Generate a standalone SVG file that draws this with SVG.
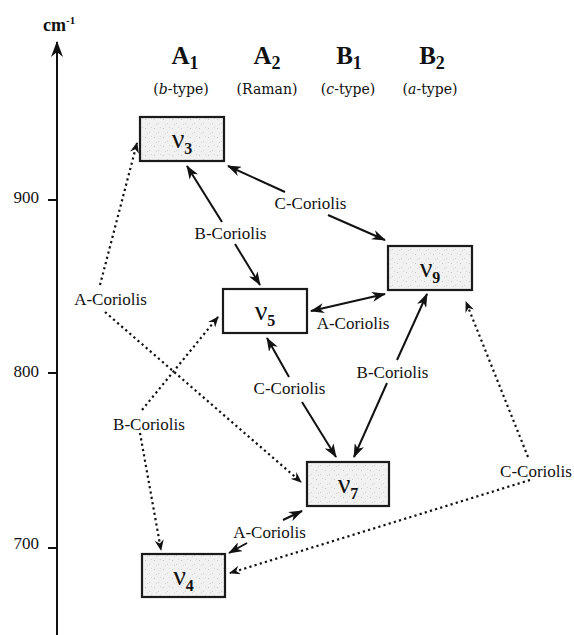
<svg xmlns="http://www.w3.org/2000/svg" width="574" height="635" viewBox="0 0 574 635">
<style>
.lbl{font-family:"Liberation Serif","Times New Roman",serif;font-size:17px;fill:#111;text-anchor:middle}
.tick{font-family:"Liberation Serif","Times New Roman",serif;font-size:17px;fill:#111;text-anchor:end}
.hdr{font-family:"Liberation Serif","Times New Roman",serif;font-size:25px;font-weight:bold;fill:#111;text-anchor:middle}
.sub{font-family:"DejaVu Serif",serif;font-size:14px;fill:#111;text-anchor:middle}
.nu{font-family:"Liberation Serif","Times New Roman",serif;font-size:28px;fill:#111;text-anchor:middle}
.box{stroke:#1a1a1a;stroke-width:2.2}
.gray{fill:url(#speck)}
.white{fill:#fff}
.solid{stroke:#111;stroke-width:2;fill:none;marker-end:url(#ah)}
.dot{stroke:#111;stroke-width:2.2;fill:none;stroke-dasharray:2.2 3.2;marker-end:url(#ahs)}
</style>
<defs>
<pattern id="speck" width="9" height="9" patternUnits="userSpaceOnUse">
<rect width="9" height="9" fill="#f1f1f1"/>
<rect x="1" y="2" width="1" height="1" fill="#c8c8c8"/>
<rect x="5" y="6" width="1" height="1" fill="#d0d0d0"/>
<rect x="7" y="1" width="1" height="1" fill="#dadada"/>
<rect x="3" y="7" width="1" height="1" fill="#d4d4d4"/>
</pattern>
<marker id="ah" viewBox="0 0 14 10" refX="13" refY="5" markerWidth="14" markerHeight="10" orient="auto" markerUnits="userSpaceOnUse">
<path d="M0,0 L14,5 L0,10 L4,5 z" fill="#111"/>
</marker>
<marker id="ahs" viewBox="0 0 11 9" refX="10" refY="4.5" markerWidth="11" markerHeight="9" orient="auto" markerUnits="userSpaceOnUse">
<path d="M0,0 L11,4.5 L0,9 L3.5,4.5 z" fill="#111"/>
</marker>
<marker id="axh" viewBox="0 0 16 12" refX="15" refY="6" markerWidth="16" markerHeight="12" orient="auto" markerUnits="userSpaceOnUse">
<path d="M0,0 L16,6 L0,12 L5,6 z" fill="#111"/>
</marker>
</defs>
<rect width="574" height="635" fill="#fff"/>

<g id="axis">
<line x1="57" y1="635" x2="57" y2="42" stroke="#111" stroke-width="2" marker-end="url(#axh)"/>
<text x="43" y="31" font-family="Liberation Serif,serif" font-size="18" font-weight="bold" fill="#111">cm<tspan font-size="11" dy="-7">-1</tspan></text>
<line x1="48" y1="200" x2="57" y2="200" stroke="#111" stroke-width="2"/>
<line x1="48" y1="373" x2="57" y2="373" stroke="#111" stroke-width="2"/>
<line x1="48" y1="548" x2="57" y2="548" stroke="#111" stroke-width="2"/>
<text class="tick" x="39" y="203">900</text>
<text class="tick" x="39" y="377">800</text>
<text class="tick" x="39" y="549">700</text>
</g>

<g id="headers">
<text class="hdr" x="185" y="64">A<tspan font-size="18" dy="5">1</tspan></text>
<text class="hdr" x="267" y="64">A<tspan font-size="18" dy="5">2</tspan></text>
<text class="hdr" x="349" y="64">B<tspan font-size="18" dy="5">1</tspan></text>
<text class="hdr" x="432" y="64">B<tspan font-size="18" dy="5">2</tspan></text>
<text class="sub" x="181" y="94">(<tspan font-style="italic">b</tspan>-type)</text>
<text class="sub" x="267" y="94">(Raman)</text>
<text class="sub" x="348" y="94">(<tspan font-style="italic">c</tspan>-type)</text>
<text class="sub" x="430" y="94">(<tspan font-style="italic">a</tspan>-type)</text>
</g>

<g id="connectors">
<line class="solid" x1="222" y1="222" x2="187" y2="166"/>
<line class="solid" x1="235" y1="244" x2="260" y2="285"/>
<text class="lbl" x="230.5" y="239">B-Coriolis</text>
<line class="solid" x1="285" y1="192" x2="228" y2="166"/>
<line class="solid" x1="328" y1="215" x2="385" y2="240"/>
<text class="lbl" x="310.5" y="209">C-Coriolis</text>
<line class="solid" x1="348" y1="302.5" x2="311" y2="311"/>
<line class="solid" x1="348" y1="302.5" x2="385" y2="294"/>
<text class="lbl" x="353" y="329">A-Coriolis</text>
<line class="solid" x1="289" y1="377" x2="267" y2="338"/>
<line class="solid" x1="302" y1="402" x2="336" y2="457"/>
<text class="lbl" x="289.5" y="394">C-Coriolis</text>
<line class="solid" x1="397" y1="360" x2="427" y2="294"/>
<line class="solid" x1="387" y1="383" x2="354" y2="457"/>
<text class="lbl" x="392.5" y="378">B-Coriolis</text>
<line class="solid" x1="283" y1="520" x2="302" y2="511"/>
<line class="solid" x1="247" y1="543" x2="229" y2="553"/>
<text class="lbl" x="269.5" y="538">A-Coriolis</text>
<line class="dot" x1="100" y1="285" x2="137" y2="143"/>
<line class="dot" x1="105" y1="312" x2="301" y2="482"/>
<text class="lbl" x="110.5" y="305">A-Coriolis</text>
<line class="dot" x1="142" y1="410" x2="218" y2="317"/>
<line class="dot" x1="140" y1="433" x2="161" y2="550"/>
<text class="lbl" x="149" y="430">B-Coriolis</text>
<line class="dot" x1="528" y1="457" x2="466" y2="302"/>
<line class="dot" x1="530" y1="480" x2="230" y2="573"/>
<text class="lbl" x="536" y="477">C-Coriolis</text>
</g>

<g id="nu3">
<rect class="box gray" x="140" y="117" width="84" height="44"/>
<text class="nu" x="182" y="148">ν<tspan font-size="16" font-weight="bold" dy="6">3</tspan></text>
</g>
<g id="nu5">
<rect class="box white" x="223" y="289" width="84" height="44"/>
<text class="nu" x="265" y="320">ν<tspan font-size="16" font-weight="bold" dy="6">5</tspan></text>
</g>
<g id="nu9">
<rect class="box gray" x="388" y="246" width="84" height="44"/>
<text class="nu" x="430" y="277">ν<tspan font-size="16" font-weight="bold" dy="6">9</tspan></text>
</g>
<g id="nu7">
<rect class="box gray" x="307" y="462" width="82" height="44"/>
<text class="nu" x="348" y="493">ν<tspan font-size="16" font-weight="bold" dy="6">7</tspan></text>
</g>
<g id="nu4">
<rect class="box gray" x="142" y="554" width="83" height="43"/>
<text class="nu" x="183.5" y="585">ν<tspan font-size="16" font-weight="bold" dy="6">4</tspan></text>
</g>
</svg>
